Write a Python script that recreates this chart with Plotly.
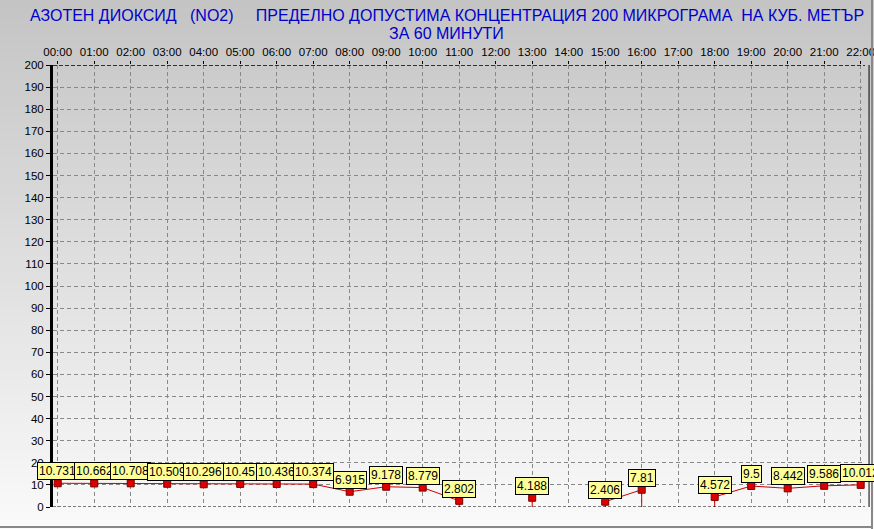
import plotly.graph_objects as go

hours = list(range(23))
hour_labels = ["%02d:00" % h for h in hours]
values = [10.731, 10.662, 10.708, 10.509, 10.296, 10.45, 10.436, 10.374, 6.915,
          9.178, 8.779, 2.802, None, 4.188, None, 2.406, 7.81, None, 4.572,
          9.5, 8.442, 9.586, 10.012]
value_text = ["10.731", "10.662", "10.708", "10.509", "10.296", "10.45", "10.436",
              "10.374", "6.915", "9.178", "8.779", "2.802", "", "4.188", "",
              "2.406", "7.81", "", "4.572", "9.5", "8.442", "9.586", "10.012"]
y_ticks = list(range(0, 201, 10))

title1 = "АЗОТЕН ДИОКСИД   (NO2)     ПРЕДЕЛНО ДОПУСТИМА КОНЦЕНТРАЦИЯ 200 МИКРОГРАМА  НА КУБ. МЕТЪР"
title2 = "ЗА 60 МИНУТИ"

W, H = 874, 529
L, R, T, B = 53, 9, 65, 22
plot_h = H - T - B
plot_w = W - L - R

font = "Liberation Sans, Arial, sans-serif"

fig = go.Figure()

# drop lines for points next to a gap
dx, dy = [], []
for i, v in enumerate(values):
    if v is None:
        continue
    prev_gap = i > 0 and values[i - 1] is None
    next_gap = i < len(values) - 1 and values[i + 1] is None
    if prev_gap or next_gap:
        dx += [hours[i], hours[i], None]
        dy += [v, 0, None]

fig.add_trace(go.Scatter(x=dx, y=dy, mode="lines",
                         line=dict(color="#cc0000", width=1),
                         hoverinfo="skip", showlegend=False))
fig.add_trace(go.Scatter(x=hours, y=values, mode="lines+markers",
                         connectgaps=False,
                         line=dict(color="#cc0000", width=1),
                         marker=dict(symbol="square", size=7, color="#dd0000",
                                     line=dict(color="#7a0000", width=1)),
                         showlegend=False))

for h, v, t in zip(hours, values, value_text):
    if v is None:
        continue
    fig.add_annotation(x=h, y=v, text=t, showarrow=False, xanchor="center",
                       yanchor="bottom", yshift=3,
                       font=dict(family=font, size=12, color="black"),
                       bgcolor="#ffff99", bordercolor="black", borderwidth=1,
                       borderpad=1)

# titles
fig.add_annotation(xref="paper", yref="paper", x=(446.5 - L) / plot_w, y=1,
                   yshift=50, xanchor="center", yanchor="middle", showarrow=False,
                   text=title1.replace(" ", "\u00a0"),
                   font=dict(family=font, size=16, color="#0000cc"))
fig.add_annotation(xref="paper", yref="paper", x=(446.5 - L) / plot_w, y=1,
                   yshift=32, xanchor="center", yanchor="middle", showarrow=False,
                   text=title2.replace(" ", "\u00a0"),
                   font=dict(family=font, size=16, color="#0000cc"))

# background gradient strips (kept strictly inside the figure)
shapes = []
N = 60
top_c = (196, 196, 196)
bot_c = (250, 250, 250)
for k in range(N):
    p0 = k * H / N
    p1 = min(H, (k + 1) * H / N + 0.8)
    f = (k + 0.5) / N
    c = tuple(int(round(top_c[j] + (bot_c[j] - top_c[j]) * f)) for j in range(3))
    shapes.append(dict(type="rect", xref="paper", yref="paper",
                       x0=-L / plot_w, x1=1 + R / plot_w,
                       y0=(H - B - p1) / plot_h, y1=(H - B - p0) / plot_h,
                       fillcolor="rgb(%d,%d,%d)" % c, line=dict(width=0),
                       layer="below"))
# plot borders
shapes.append(dict(type="line", xref="paper", yref="y", x0=0, x1=1, y0=200, y1=200,
                   line=dict(color="black", width=1.5, dash="4px,2px")))
shapes.append(dict(type="line", xref="paper", yref="y", x0=0, x1=1, y0=0, y1=0,
                   line=dict(color="black", width=1, dash="3px,2px")))
shapes.append(dict(type="line", xref="paper", yref="paper", x0=1.005, x1=1.005, y0=0, y1=1,
                   line=dict(color="black", width=1)))
# image frame (right and bottom)
shapes.append(dict(type="line", xref="paper", yref="paper",
                   x0=(872 - L) / plot_w, x1=(872 - L) / plot_w,
                   y0=-B / plot_h, y1=(H - B) / plot_h,
                   line=dict(color="#888888", width=2)))
shapes.append(dict(type="line", xref="paper", yref="paper",
                   x0=-L / plot_w, x1=(872 - L) / plot_w,
                   y0=(H - B - 527) / plot_h, y1=(H - B - 527) / plot_h,
                   line=dict(color="#888888", width=2)))

grid_dash = "4px,3px"
fig.update_layout(
    width=W, height=H, autosize=False,
    margin=dict(l=L, r=R, t=T, b=B, pad=0, autoexpand=False),
    paper_bgcolor="rgb(196,196,196)",
    plot_bgcolor="rgba(0,0,0,0)",
    shapes=shapes,
    showlegend=False,
    font=dict(family=font, size=11, color="black"),
    xaxis=dict(side="top", range=[-0.129, 22.118], tickmode="array",
               tickvals=hours, ticktext=hour_labels, showgrid=True,
               gridcolor="#888888", griddash=grid_dash, gridwidth=1,
               zeroline=False, showline=False, ticks="outside", ticklen=3,
               ticklabeloverflow="allow", automargin=False,
               tickcolor="black", tickfont=dict(family=font, size=11.5, color="black")),
    yaxis=dict(range=[0, 200], tickmode="array", tickvals=y_ticks,
               showgrid=True, gridcolor="#888888", griddash=grid_dash, gridwidth=1,
               zeroline=False, showline=True, linecolor="black", linewidth=3,
               automargin=False,
               ticks="outside", ticklen=4, tickcolor="black",
               tickfont=dict(family=font, size=11.5, color="black")),
)

post = (
    "document.documentElement.style.overflow='hidden';"
    "document.body.style.margin='0';document.body.style.overflow='hidden';"
)
fig.write_html("out.html", config={"displayModeBar": False}, post_script=post)
